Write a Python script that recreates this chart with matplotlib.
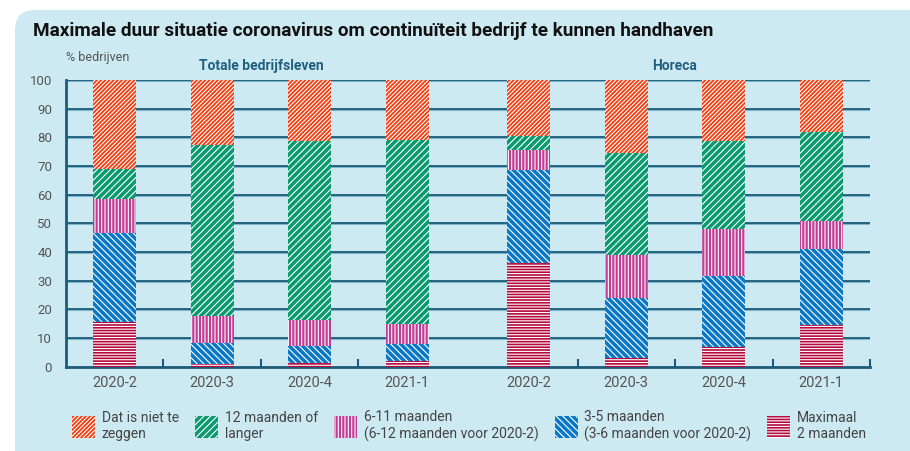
import matplotlib
matplotlib.use('Agg')
import matplotlib.pyplot as plt
from matplotlib.patches import FancyBboxPatch
import numpy as np

plt.rcParams['font.family'] = ['Roboto', 'DejaVu Sans']
plt.rcParams['hatch.linewidth'] = 0.8

periods = ['2020-2', '2020-3', '2020-4', '2021-1']
groups = ['Totale bedrijfsleven', 'Horeca']

# values per period, Totale first then Horeca (percent of companies)
max_2_maanden = [15.5, 1.0, 1.1, 1.9, 36.0, 3.1, 6.7, 14.5]
maanden_3_5 = [31.0, 7.2, 6.0, 5.9, 32.5, 20.9, 24.9, 26.4]
maanden_6_11 = [12.0, 9.5, 9.1, 7.1, 7.0, 14.9, 16.3, 9.8]
maanden_12_plus = [10.3, 59.5, 62.4, 64.1, 4.9, 35.5, 30.7, 31.3]
niet_te_zeggen = [31.2, 22.8, 21.4, 21.0, 19.6, 25.6, 21.4, 18.0]

series = [
    (max_2_maanden, '#b3093d', '-' * 6, 'Maximaal\n2 maanden'),
    (maanden_3_5, '#0a78c6', '\\' * 5, '3-5 maanden\n(3-6 maanden voor 2020-2)'),
    (maanden_6_11, '#c23b95', '|' * 5, '6-11 maanden\n(6-12 maanden voor 2020-2)'),
    (maanden_12_plus, '#0a9a6f', '/' * 5, '12 maanden of\nlanger'),
    (niet_te_zeggen, '#f43d0f', '/' * 8, 'Dat is niet te\nzeggen'),
]

bg = '#cdeaf3'
grid_col = '#1c5c7a'
text_col = '#555555'

fig = plt.figure(figsize=(9.1, 4.51), dpi=100, facecolor='white')
box = FancyBboxPatch((0.15, -0.3), 9.4, 4.71, boxstyle='round,pad=0,rounding_size=0.2',
                     transform=fig.dpi_scale_trans, facecolor=bg, edgecolor='none', zorder=-5)
fig.patches.append(box)

ax = fig.add_axes([66 / 910, 84.5 / 451, 804 / 910, 286.5 / 451])
ax.set_facecolor('none')
ax.set_zorder(2)

x = np.concatenate([np.arange(4) + 0.5, np.arange(4) + 4.75])
bottom = np.zeros(8)
handles = {}
for vals, col, hatch, label in series:
    b = ax.bar(x, vals, width=0.44, bottom=bottom, color=col, edgecolor='white',
               linewidth=0, hatch=hatch, label=label, zorder=3)
    handles[label] = b
    bottom += np.array(vals)

ax.set_xlim(0, 8.25)
ax.set_ylim(0, 100)
ax.set_yticks(range(0, 101, 10))
ax.set_xticks(x)
ax.set_xticklabels(periods * 2)
ax.tick_params(axis='y', length=0, pad=10, labelsize=9.5, labelcolor=text_col)
ax.tick_params(axis='x', length=0, pad=7, labelsize=10.5, labelcolor=text_col)
ax.set_xticks([1, 2, 3, 5.25, 6.25, 7.25, 8.25], minor=True)
ax.tick_params(axis='x', which='minor', direction='in', length=6, width=1.5, color=grid_col)

for y in range(10, 101, 10):
    ax.axhline(y - 0.35, color='#7fb5cc', lw=1.5, zorder=1)
    ax.axhline(y, color=grid_col, lw=1.3, zorder=1)

for s in ['top', 'right']:
    ax.spines[s].set_visible(False)
for s in ['left', 'bottom']:
    ax.spines[s].set_color(grid_col)
    ax.spines[s].set_linewidth(2)

fig.text(33 / 910, 1 - 31 / 451, 'Maximale duur situatie coronavirus om continuïteit bedrijf te kunnen handhaven',
         fontsize=13.6, fontweight='bold', color='#111111', va='center', ha='left')
fig.text(66 / 910, 1 - 58 / 451, '% bedrijven', fontsize=9, color=text_col, va='center', ha='left')
fig.text(261 / 910, 1 - 66 / 451, groups[0], fontsize=10, fontweight='bold', color='#1f5f80',
         va='center', ha='center')
fig.text(675 / 910, 1 - 66 / 451, groups[1], fontsize=10, fontweight='bold', color='#1f5f80',
         va='center', ha='center')

order = [s[3] for s in series][::-1]
fig.legend([handles[l] for l in order], order, loc='upper left', bbox_to_anchor=(72 / 910, 1 - 410 / 451),
           ncol=5, frameon=False, fontsize=10, labelcolor='#444444', borderpad=0, borderaxespad=0,
           handlelength=1.65, handleheight=2.0, handletextpad=0.5, columnspacing=1.15,
           labelspacing=0)

fig.savefig('out.png', dpi=100, facecolor='white')
